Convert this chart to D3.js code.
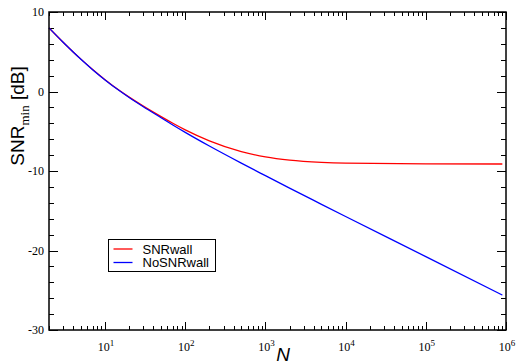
<!DOCTYPE html>
<html>
<head>
<meta charset="utf-8">
<script src="https://cdn.jsdelivr.net/npm/d3@7"></script>
<style>
  html, body { margin: 0; padding: 0; background: #fff; }
  svg { display: block; }
</style>
</head>
<body>
<div id="chart"></div>
<script>
// values
const nValues = [2, 3, 4, 5, 7, 10, 15, 20, 30, 50, 70, 100, 200, 500, 1000, 2000, 5000, 1e4, 1e5, 9e5];
const snrWall = [8.0, 6.2, 4.98, 4.07, 2.77, 1.49, 0.15, -0.71, -1.84, -3.16, -3.99, -4.82, -6.2, -7.56, -8.23, -8.64, -8.92, -9.02, -9.11, -9.12];
const noSnrWall = [8.0, 6.19, 4.97, 4.06, 2.75, 1.46, 0.12, -0.76, -1.92, -3.3, -4.21, -5.14, -6.86, -9.01, -10.59, -12.16, -14.19, -15.72, -20.77, -25.61];
const seriesNames = ['SNRwall', 'NoSNRwall'];
const seriesColors = ['#ff0000', '#0000ff'];
const yTicks = [10, 0, -10, -20, -30];
const xDecades = [1, 2, 3, 4, 5, 6];

const width = 516;
const height = 364;
const margin = { top: 12, right: 10, bottom: 34, left: 49 };
const x0 = margin.left, x1 = width - margin.right;
const y0 = margin.top, y1 = height - margin.bottom;

const svg = d3.select('#chart').append('svg').attr('width', width).attr('height', height);

const x = d3.scaleLog().domain([2, 1e6]).range([x0, x1]);
const y = d3.scaleLinear().domain([-30, 10]).range([y1, y0]);

// ticks, all pointing inward, mirrored on opposite sides
const ticksG = svg.append('g').attr('stroke', '#000').attr('stroke-width', 1);
const xMinor = [];
for (let k = 0; k <= 5; k++) {
  for (let m = 1; m <= 9; m++) {
    const v = m * Math.pow(10, k);
    if (v >= 2 && v <= 1e6) xMinor.push({ v, major: m === 1 });
  }
}
xMinor.push({ v: 1e6, major: true });
xMinor.forEach((d) => {
  const len = d.major ? 8 : 4;
  const px = Math.round(x(d.v)) + 0.5;
  ticksG.append('line').attr('x1', px).attr('x2', px).attr('y1', y1).attr('y2', y1 - len);
  ticksG.append('line').attr('x1', px).attr('x2', px).attr('y1', y0).attr('y2', y0 + len);
});
d3.range(-30, 10.01, 2).forEach((v) => {
  const major = v % 10 === 0;
  const len = major ? 9 : 5;
  const py = Math.round(y(v)) + 0.5;
  ticksG.append('line').attr('x1', x0).attr('x2', x0 + len).attr('y1', py).attr('y2', py);
  ticksG.append('line').attr('x1', x1).attr('x2', x1 - len).attr('y1', py).attr('y2', py);
});

// data lines
const line = d3.line()
  .x((d) => x(d[0]))
  .y((d) => y(d[1]))
  .curve(d3.curveMonotoneX);

const series = [snrWall, noSnrWall];
series.forEach((vals, i) => {
  svg.append('path')
    .datum(nValues.map((n, j) => [n, vals[j]]))
    .attr('fill', 'none')
    .attr('stroke', seriesColors[i])
    .attr('stroke-width', 1.3)
    .attr('d', line);
});

// frame
svg.append('rect')
  .attr('x', x0).attr('y', y0)
  .attr('width', x1 - x0).attr('height', y1 - y0)
  .attr('fill', 'none').attr('stroke', '#000').attr('stroke-width', 1.5);

// y tick labels
svg.append('g')
  .selectAll('text')
  .data(yTicks)
  .enter()
  .append('text')
  .attr('x', x0 - 5)
  .attr('y', (d) => y(d))
  .attr('dy', '0.35em')
  .attr('text-anchor', 'end')
  .attr('font-family', 'Liberation Serif, serif')
  .attr('font-size', 12)
  .text((d) => String(d));

// x tick labels: 10^k
const xl = svg.append('g')
  .selectAll('text')
  .data(xDecades)
  .enter()
  .append('text')
  .attr('x', (d) => x(Math.pow(10, d)) + 1)
  .attr('y', 351)
  .attr('text-anchor', 'middle')
  .attr('font-family', 'Liberation Serif, serif')
  .attr('font-size', 12);
xl.append('tspan').text('10');
xl.append('tspan').attr('dy', -5).attr('font-size', 9).text((d) => d);

// axis titles
const yTitle = svg.append('text')
  .attr('transform', 'translate(24,116) rotate(-90)')
  .attr('text-anchor', 'middle')
  .attr('font-family', 'Liberation Sans, Arial, sans-serif')
  .attr('font-size', 19);
yTitle.append('tspan').text('SNR');
yTitle.append('tspan').attr('dy', 5).attr('font-family', 'Liberation Serif, serif').attr('font-size', 13).text('min');
yTitle.append('tspan').attr('dy', -5).text(' [dB]');

svg.append('text')
  .attr('x', 283)
  .attr('y', 361)
  .attr('text-anchor', 'middle')
  .attr('font-family', 'Liberation Sans, Arial, sans-serif')
  .attr('font-style', 'italic')
  .attr('font-size', 19)
  .text('N');

// legend
const legend = svg.append('g').attr('transform', 'translate(108.5,239.5)');
legend.append('rect')
  .attr('width', 107).attr('height', 32)
  .attr('fill', '#fff').attr('stroke', '#000').attr('stroke-width', 1);
seriesNames.forEach((name, i) => {
  const ly = 9.5 + i * 13.5;
  legend.append('line')
    .attr('x1', 5).attr('x2', 24).attr('y1', ly).attr('y2', ly)
    .attr('stroke', seriesColors[i]).attr('stroke-width', 1.3);
  legend.append('text')
    .attr('x', 34).attr('y', ly)
    .attr('dy', '0.35em')
    .attr('font-family', 'Liberation Sans, Arial, sans-serif')
    .attr('font-size', 13)
    .text(name);
});
</script>
</body>
</html>
